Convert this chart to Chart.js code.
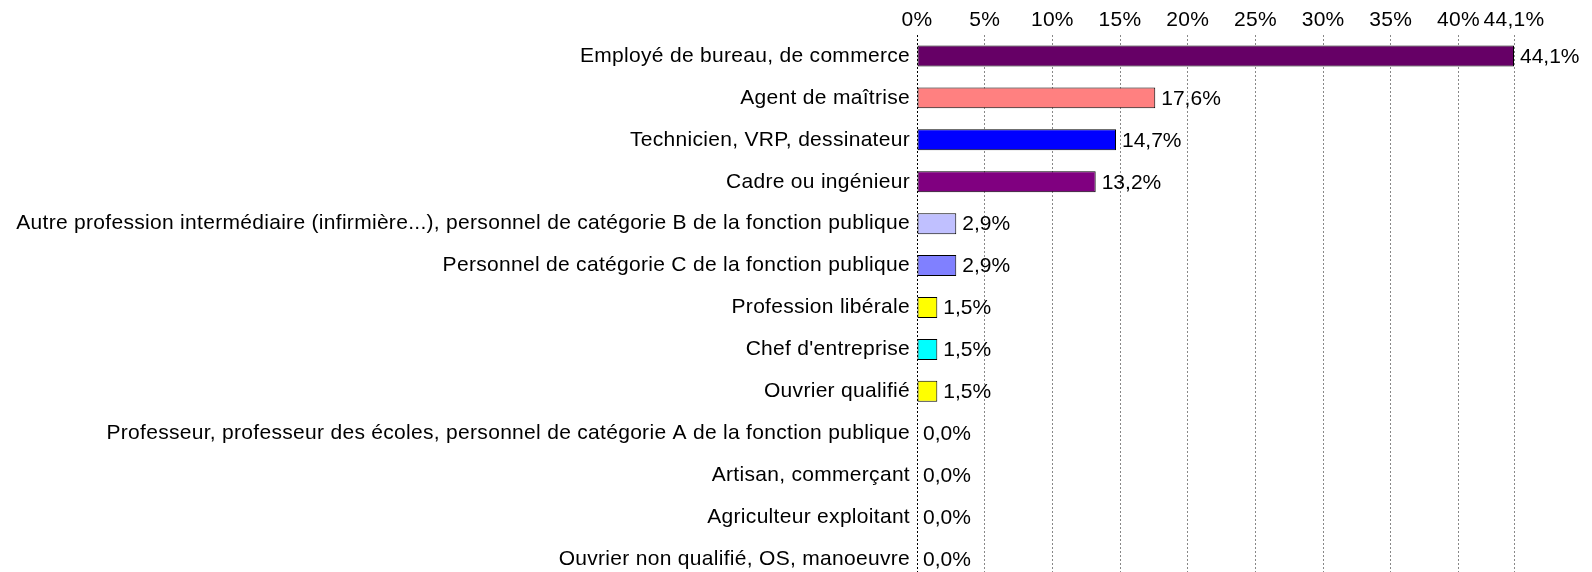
<!DOCTYPE html>
<html>
<head>
<meta charset="utf-8">
<script src="https://cdn.jsdelivr.net/npm/chart.js@4.4.0/dist/chart.umd.min.js"></script>
<style>
  html, body { margin: 0; padding: 0; background: #fff; overflow: hidden; }
  #wrap { width: 1592px; height: 580px; position: relative; }
</style>
</head>
<body>
<div id="wrap"><canvas id="myChart"></canvas></div>
<script>
'use strict';

let categories = [
  'Employé de bureau, de commerce',
  'Agent de maîtrise',
  'Technicien, VRP, dessinateur',
  'Cadre ou ingénieur',
  'Autre profession intermédiaire (infirmière...), personnel de catégorie B de la fonction publique',
  'Personnel de catégorie C de la fonction publique',
  'Profession libérale',
  'Chef d\'entreprise',
  'Ouvrier qualifié',
  'Professeur, professeur des écoles, personnel de catégorie A de la fonction publique',
  'Artisan, commerçant',
  'Agriculteur exploitant',
  'Ouvrier non qualifié, OS, manoeuvre'
];

let percentValues = [44.1, 17.6, 14.7, 13.2, 2.9, 2.9, 1.5, 1.5, 1.5, 0, 0, 0, 0];

let barColors = [
  '#660066', '#FF8080', '#0000FF', '#800080', '#C0C0FF', '#8080FF',
  '#FFFF00', '#00FFFF', '#FFFF00', '#FFFFFF', '#FFFFFF', '#FFFFFF', '#FFFFFF'
];

let xTicks = [0, 5, 10, 15, 20, 25, 30, 35, 40, 44.1];

const fontFamily = '"Liberation Sans", Arial, sans-serif';
const fontSize = 21;
const spacing = '0.3px';

// slightly wider letter spacing like the original rendering
const letterSpacing = {
  id: 'letterSpacing',
  beforeLayout(chart) { chart.ctx.letterSpacing = spacing; },
  beforeDraw(chart) { chart.ctx.letterSpacing = spacing; }
};

// values next to the bars
const barLabels = {
  id: 'barLabels',
  afterDatasetsDraw(chart) {
    let ctx = chart.ctx;
    let meta = chart.getDatasetMeta(0);
    ctx.save();
    ctx.letterSpacing = '0px';
    ctx.font = fontSize + 'px ' + fontFamily;
    ctx.fillStyle = '#000';
    ctx.textBaseline = 'middle';
    ctx.textAlign = 'left';
    meta.data.forEach(function (bar, i) {
      let v = percentValues[i];
      ctx.fillText(v.toFixed(1).replace('.', ',') + '%', bar.x + 6, bar.y + 1);
    });
    ctx.restore();
  }
};

let ctx = document.getElementById('myChart').getContext('2d');
let myChart = new Chart(ctx, {
  type: 'bar',
  data: {
    labels: categories,
    datasets: [{
      data: percentValues,
      backgroundColor: barColors,
      borderColor: '#000',
      borderWidth: percentValues.map(v => v > 0 ? 1 : 0),
      borderSkipped: false,
      barPercentage: 0.5,
      categoryPercentage: 1
    }]
  },
  options: {
    indexAxis: 'y',
    responsive: true,
    maintainAspectRatio: false,
    animation: false,
    events: [],
    layout: { padding: { left: 0, right: 78, top: 0, bottom: 0 } },
    plugins: {
      legend: { display: false },
      tooltip: { enabled: false }
    },
    scales: {
      x: {
        position: 'top',
        min: 0,
        max: 44.1,
        afterBuildTicks(scale) {
          scale.ticks = xTicks.map(v => ({ value: v }));
        },
        afterFit(scale) {
          scale.height = 35;
          scale.paddingLeft = 0;
          scale.paddingRight = 0;
        },
        ticks: {
          autoSkip: false,
          maxRotation: 0,
          padding: 2,
          color: '#000',
          font: { family: fontFamily, size: fontSize },
          callback: function (value) {
            return String(value).replace('.', ',') + '%';
          }
        },
        grid: {
          drawTicks: false,
          color: c => c.tick && c.tick.value === 0 ? '#000' : '#888',
          lineWidth: 1
        },
        border: { display: false, dash: [2, 2] }
      },
      y: {
        afterFit(scale) {
          scale.width = 917;
          scale.paddingTop = 0;
          scale.paddingBottom = 0;
        },
        ticks: {
          padding: 7,
          color: '#000',
          font: { family: fontFamily, size: fontSize }
        },
        grid: { display: false, drawTicks: false },
        border: { display: false }
      }
    }
  },
  plugins: [letterSpacing, barLabels]
});
</script>
</body>
</html>
